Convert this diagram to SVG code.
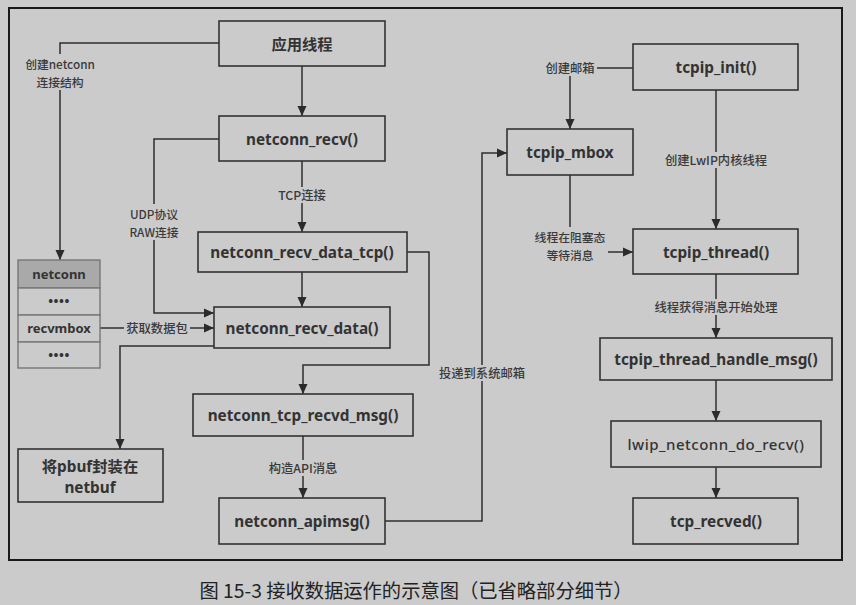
<svg xmlns="http://www.w3.org/2000/svg" width="856" height="605" viewBox="0 0 856 605">
<defs>
<marker id="ah" markerWidth="10" markerHeight="10" refX="10" refY="5" orient="auto" markerUnits="userSpaceOnUse">
<path d="M0,0.5 L10,5 L0,9.5 Z" fill="#2b2b2b"/>
</marker>
<style>
.bg{fill:#cbcbcb}
.box{fill:#cbcbcb;stroke:#333;stroke-width:1.6}
.nt{font-family:"Noto Sans","Noto Sans CJK SC",sans-serif;font-weight:bold;font-size:15.3px;fill:#333;text-anchor:middle;dominant-baseline:central}
.lb{font-family:"Noto Sans CJK SC","Noto Sans",sans-serif;font-weight:500;font-size:12.3px;fill:#3a3a3a;text-anchor:middle;dominant-baseline:central}
.lb2{font-size:11.8px}
.ln{fill:none;stroke:#2f2f2f;stroke-width:1.5}
.lbg{fill:#cbcbcb}
.tb{fill:#cbcbcb;stroke:#777;stroke-width:1.4}
.th{fill:#a9a9a9;stroke:#777;stroke-width:1.4}
.cap{font-family:"Noto Sans CJK SC","Noto Sans",sans-serif;font-size:19.3px;fill:#222;text-anchor:middle;dominant-baseline:central}
</style>
</defs>
<rect class="bg" x="0" y="0" width="856" height="605"/>
<rect x="9" y="8" width="833" height="552" fill="none" stroke="#1a1a1a" stroke-width="2"/>

<g id="connectors">
<path class="ln" d="M219,43 H60 V260" marker-end="url(#ah)"/>
<path class="ln" d="M302,66 V116" marker-end="url(#ah)"/>
<path class="ln" d="M302,161 V232" marker-end="url(#ah)"/>
<path class="ln" d="M219,139 H154 V313 H214" marker-end="url(#ah)"/>
<path class="ln" d="M302,272 V307" marker-end="url(#ah)"/>
<path class="ln" d="M100,328 H214" marker-end="url(#ah)"/>
<path class="ln" d="M214,346 H120 V449" marker-end="url(#ah)"/>
<path class="ln" d="M407,252 H429 V365 H303 V394" marker-end="url(#ah)"/>
<path class="ln" d="M303,436 V498" marker-end="url(#ah)"/>
<path class="ln" d="M385,521 H482 V153 H507" marker-end="url(#ah)"/>
<path class="ln" d="M633,68 H570 V129" marker-end="url(#ah)"/>
<path class="ln" d="M716,90 V229" marker-end="url(#ah)"/>
<path class="ln" d="M570,175 V227"/>
<path class="ln" d="M608,252 H633" marker-end="url(#ah)"/>
<path class="ln" d="M716,274 V338" marker-end="url(#ah)"/>
<path class="ln" d="M716,380 V421" marker-end="url(#ah)"/>
<path class="ln" d="M716,467 V498" marker-end="url(#ah)"/>

<rect class="lbg" x="18" y="54" width="84" height="36"/>
<text class="lb lb2" x="60" y="63">创建netconn</text>
<text class="lb lb2" x="60" y="81">连接结构</text>
<rect class="lbg" x="272" y="187" width="60" height="16"/>
<text class="lb" x="302" y="195">TCP连接</text>
<rect class="lbg" x="122" y="204" width="64" height="36"/>
<text class="lb lb2" x="154" y="213">UDP协议</text>
<text class="lb lb2" x="154" y="231">RAW连接</text>
<rect class="lbg" x="124" y="320" width="66" height="16"/>
<text class="lb" x="157" y="328">获取数据包</text>
<rect class="lbg" x="264" y="460" width="78" height="16"/>
<text class="lb" x="303" y="468">构造API消息</text>
<rect class="lbg" x="437" y="365" width="90" height="16"/>
<text class="lb" x="482" y="373">投递到系统邮箱</text>
<rect class="lbg" x="543" y="60" width="54" height="16"/>
<text class="lb" x="570" y="68">创建邮箱</text>
<rect class="lbg" x="658" y="152" width="116" height="16"/>
<text class="lb" x="716" y="160">创建LwIP内核线程</text>
<text class="lb lb2" x="570" y="236">线程在阻塞态</text>
<text class="lb lb2" x="570" y="254">等待消息</text>
<rect class="lbg" x="651" y="299" width="130" height="16"/>
<text class="lb" x="716" y="307">线程获得消息开始处理</text>
</g>

<g id="n-app"><rect class="box" x="219" y="21" width="166" height="45"/><text class="nt" x="302" y="44">应用线程</text></g>
<g id="n-recv"><rect class="box" x="219" y="116" width="166" height="45"/><text class="nt" x="302" y="139">netconn_recv()</text></g>
<g id="n-recv-tcp"><rect class="box" x="198" y="232" width="209" height="40"/><text class="nt" x="302" y="252">netconn_recv_data_tcp()</text></g>
<g id="n-recv-data"><rect class="box" x="214" y="307" width="176" height="41"/><text class="nt" x="302" y="328">netconn_recv_data()</text></g>
<g id="n-tcp-recvd"><rect class="box" x="193" y="394" width="220" height="42"/><text class="nt" x="303" y="415">netconn_tcp_recvd_msg()</text></g>
<g id="n-apimsg"><rect class="box" x="219" y="498" width="166" height="46"/><text class="nt" x="302" y="521">netconn_apimsg()</text></g>
<g id="n-pbuf"><rect class="box" x="18" y="449" width="145" height="53"/><text class="nt" x="90" y="466">将pbuf封装在</text><text class="nt" x="90" y="487">netbuf</text></g>
<g id="n-netconn">
<rect class="th" x="18" y="260" width="82" height="28"/>
<rect class="tb" x="18" y="288" width="82" height="27"/>
<rect class="tb" x="18" y="315" width="82" height="27"/>
<rect class="tb" x="18" y="342" width="82" height="26"/>
<text class="nt" x="59" y="274" style="font-size:13px">netconn</text>
<text class="nt" x="59" y="301" style="font-size:13px;letter-spacing:0.5px">••••</text>
<text class="nt" x="59" y="328" style="font-size:13px">recvmbox</text>
<text class="nt" x="59" y="355" style="font-size:13px;letter-spacing:0.5px">••••</text>
</g>
<g id="n-init"><rect class="box" x="633" y="44" width="165" height="46"/><text class="nt" x="716" y="67">tcpip_init()</text></g>
<g id="n-mbox"><rect class="box" x="507" y="129" width="126" height="46"/><text class="nt" x="570" y="152">tcpip_mbox</text></g>
<g id="n-thread"><rect class="box" x="633" y="229" width="165" height="45"/><text class="nt" x="716" y="252">tcpip_thread()</text></g>
<g id="n-handle"><rect class="box" x="600" y="338" width="232" height="42"/><text class="nt" x="716" y="359">tcpip_thread_handle_msg()</text></g>
<g id="n-dorecv"><rect class="box" x="611" y="421" width="210" height="46"/><text class="nt" x="716" y="444" style="font-weight:500;font-size:15px;letter-spacing:0.5px">lwip_netconn_do_recv()</text></g>
<g id="n-tcprecved"><rect class="box" x="633" y="498" width="165" height="46"/><text class="nt" x="716" y="521">tcp_recved()</text></g>

<text class="cap" x="416" y="590">图 15-3 接收数据运作的示意图（已省略部分细节）</text>
</svg>
